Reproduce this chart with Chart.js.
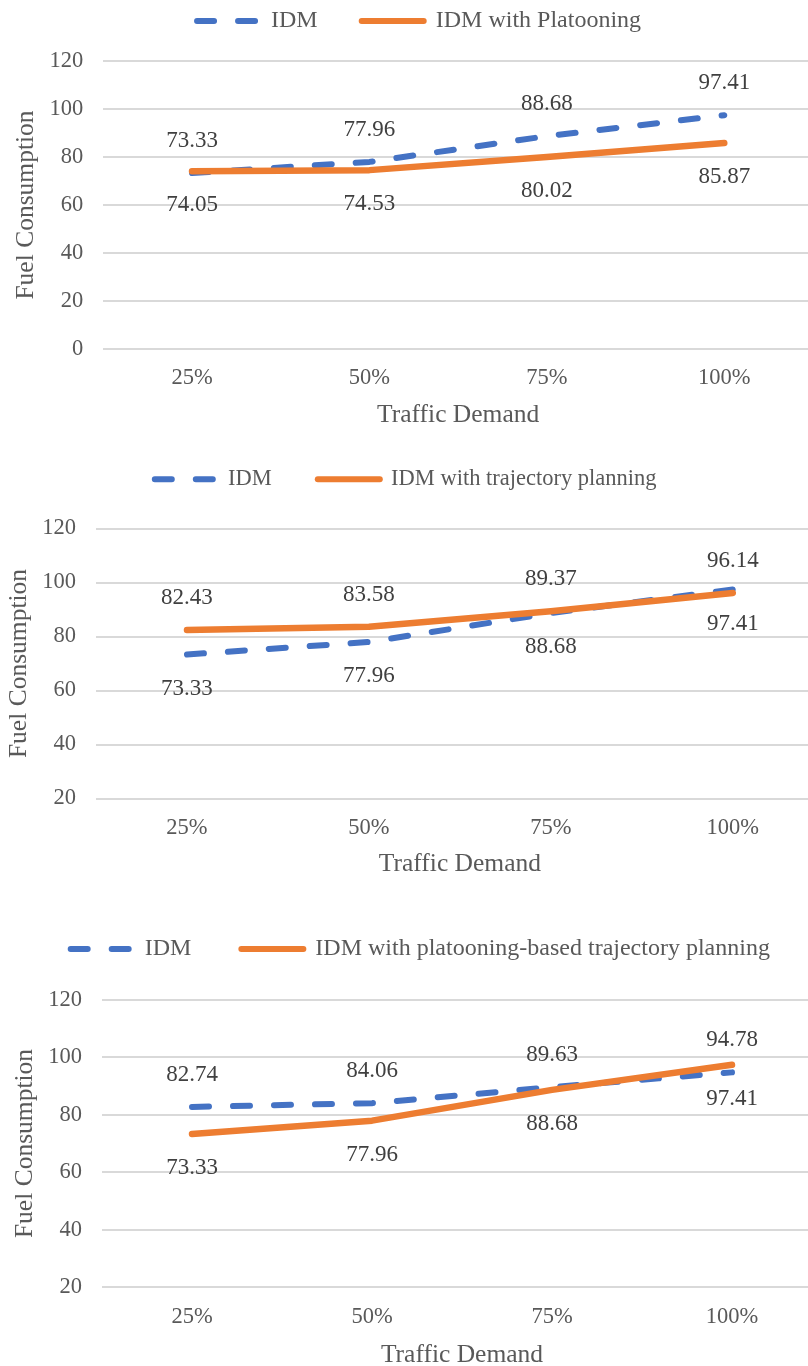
<!DOCTYPE html>
<html>
<head>
<meta charset="utf-8">
<script src="https://cdn.jsdelivr.net/npm/chart.js@4.4.1/dist/chart.umd.min.js"></script>
<style>
html,body{margin:0;padding:0;background:#fff;}
body{width:808px;height:1366px;position:relative;overflow:hidden;}
.box{position:absolute;}
</style>
</head>
<body>
<div class="box" id="b1"><canvas id="c1"></canvas></div>
<div class="box" id="b2"><canvas id="c2"></canvas></div>
<div class="box" id="b3"><canvas id="c3"></canvas></div>
<script>
// data
const demand = ['25%', '50%', '75%', '100%'];
const idm = [73.33, 77.96, 88.68, 97.41];
const idmPlatooning = [74.05, 74.53, 80.02, 85.87];
const idmTrajectory = [82.43, 83.58, 89.37, 96.14];
const idmPanel3 = [82.74, 84.06, 89.63, 94.78];
const idmPlatoonTraj = [73.33, 77.96, 88.68, 97.41];

const SERIF = '"Liberation Serif", "Times New Roman", serif';
const BLUE = '#4472C4';
const ORANGE = '#ED7D31';
const GREY = '#595959';

// value labels above / below each point
const valueLabels = {
  id: 'valueLabels',
  afterDatasetsDraw(chart) {
    const ctx = chart.ctx;
    ctx.save();
    ctx.font = '23px ' + SERIF;
    ctx.fillStyle = '#404040';
    ctx.textAlign = 'center';
    ctx.textBaseline = 'middle';
    chart.data.datasets.forEach((ds, i) => {
      const meta = chart.getDatasetMeta(i);
      meta.data.forEach((pt, j) => {
        const dy = ds.labelSide === 'above' ? -32 : 34;
        ctx.fillText(ds.data[j].toFixed(2), pt.x, pt.y + dy);
      });
    });
    ctx.restore();
  }
};

// extra room between legend and plot
const legendGap = {
  id: 'legendGap',
  beforeLayout(chart, args, opts) {
    const lg = chart.legend;
    if (lg && !lg._gapWrapped) {
      const fit = lg.fit;
      lg.fit = function () { fit.call(this); this.height += opts.extra; };
      lg._gapWrapped = true;
    }
  }
};

function legendItems(chart) {
  const items = Chart.defaults.plugins.legend.labels.generateLabels(chart);
  items.forEach(it => {
    const ds = chart.data.datasets[it.datasetIndex];
    it.lineDash = ds.borderDash || [];
    it.lineCap = 'round';
    it.lineWidth = 6;
    it.strokeStyle = ds.borderColor;
  });
  return items;
}

function makeChart(n, box, lay, blueData, orangeData, orangeName, blueSide, orangeSide, yMin) {
  const b = document.getElementById('b' + n);
  b.style.left = box.left + 'px';
  b.style.top = box.top + 'px';
  b.style.width = box.width + 'px';
  b.style.height = box.height + 'px';

  return new Chart(document.getElementById('c' + n), {
    type: 'line',
    data: {
      labels: demand,
      datasets: [{
        label: 'IDM',
        data: blueData,
        borderColor: BLUE,
        backgroundColor: BLUE,
        borderWidth: 6,
        borderDash: [17, 24],
        borderCapStyle: 'round',
        borderJoinStyle: 'round',
        pointRadius: 0,
        fill: false,
        order: 1,
        labelSide: blueSide
      }, {
        label: orangeName,
        data: orangeData,
        borderColor: ORANGE,
        backgroundColor: ORANGE,
        borderWidth: 6.5,
        borderCapStyle: 'round',
        borderJoinStyle: 'round',
        pointRadius: 0,
        fill: false,
        order: 0,
        labelSide: orangeSide
      }]
    },
    options: {
      responsive: true,
      maintainAspectRatio: false,
      animation: false,
      layout: { padding: { left: lay.padLeft, right: 0, top: 0, bottom: 0 } },
      plugins: {
        tooltip: { enabled: false },
        legendGap: { extra: lay.extra },
        legend: {
          position: 'top',
          labels: {
            usePointStyle: true,
            pointStyle: 'line',
            pointStyleWidth: 62,
            padding: lay.legendPad,
            color: GREY,
            font: { family: SERIF, size: lay.legendFont },
            generateLabels: legendItems,
            sort: (a, b) => a.datasetIndex - b.datasetIndex
          }
        }
      },
      scales: {
        x: {
          offset: true,
          grid: { display: false, drawTicks: false },
          border: { display: false },
          ticks: { color: GREY, font: { family: SERIF, size: 22.5 }, padding: lay.xTickPad },
          title: {
            display: true, text: 'Traffic Demand', color: GREY,
            font: { family: SERIF, size: 25.5 },
            padding: { top: 0, bottom: lay.xTitlePad }
          },
          afterFit: s => { s.height = lay.xHeight; }
        },
        y: {
          min: yMin,
          max: 120,
          grid: { color: '#d9d9d9', lineWidth: 2, drawTicks: false },
          border: { display: false },
          ticks: { stepSize: 20, color: GREY, font: { family: SERIF, size: 22.5 }, padding: 20 },
          title: {
            display: true, text: 'Fuel Consumption', color: GREY,
            font: { family: SERIF, size: 25.5 },
            padding: { top: lay.yTitlePad, bottom: 0 }
          },
          afterFit: s => { s.width = lay.yWidth; }
        }
      }
    },
    plugins: [valueLabels, legendGap]
  });
}

makeChart(1,
  { left: 0, top: -35, width: 813, height: 467 },
  { padLeft: 25.1, yWidth: 78.2, xHeight: 83, legendFont: 24, legendPad: 44, extra: 18,
    yTitlePad: -14.4, xTitlePad: 1.5, xTickPad: 16 },
  idm, idmPlatooning, 'IDM with Platooning', 'above', 'below', 0);

makeChart(2,
  { left: -20, top: 421.5, width: 847, height: 460.5 },
  { padLeft: 4.4, yWidth: 111.6, xHeight: 84, legendFont: 22.5, legendPad: 46, extra: 28,
    yTitlePad: 19.3, xTitlePad: 2.5, xTickPad: 16.5 },
  idm, idmTrajectory, 'IDM with trajectory planning', 'below', 'above', 20);

makeChart(3,
  { left: 0, top: 887, width: 822, height: 479 },
  { padLeft: 18.6, yWidth: 83.4, xHeight: 79, legendFont: 24, legendPad: 50, extra: 29,
    yTitlePad: -8.9, xTitlePad: -4.5, xTickPad: 16.5 },
  idmPanel3, idmPlatoonTraj, 'IDM with platooning-based trajectory planning', 'above', 'below', 20);
</script>
</body>
</html>
